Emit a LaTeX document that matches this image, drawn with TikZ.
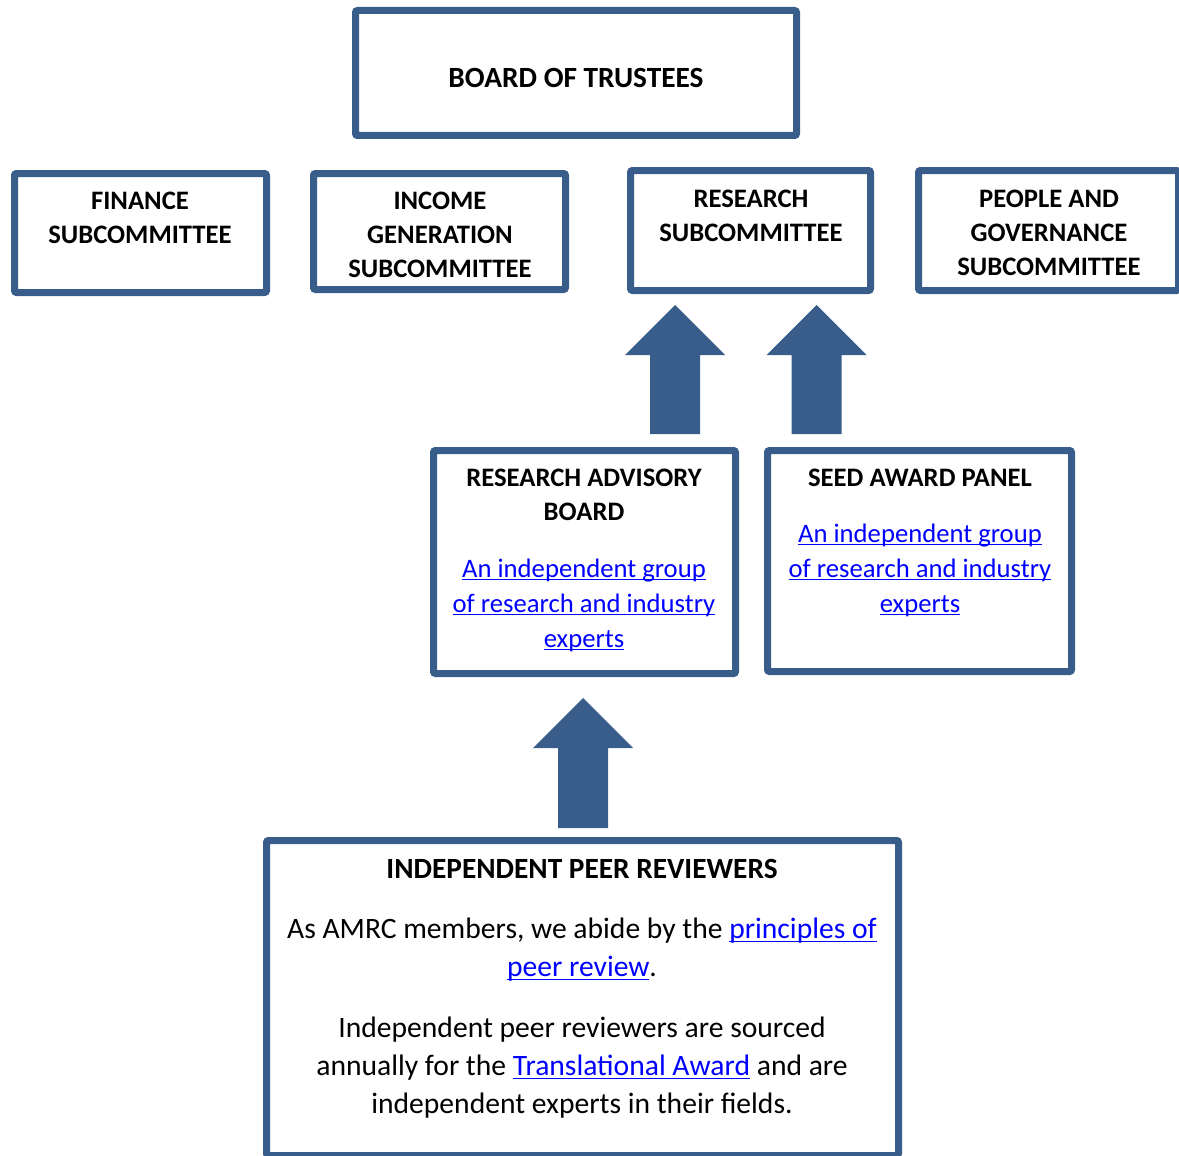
\documentclass[tikz,border=0pt]{standalone}
\usepackage{fontspec}
\setmainfont{Carlito}
\usetikzlibrary{calc, positioning}
\definecolor{boxblue}{HTML}{385D8A}
\definecolor{linkblue}{HTML}{0000FF}
\newcommand{\lnk}[1]{\textcolor{linkblue}{\setbox0\hbox{#1}\rlap{\rule[-2.4pt]{\wd0}{0.8pt}}\box0}}
\newcommand{\blockarrow}[2]{%
  \fill[boxblue] ($(#1)+(-25,0)$) |- ($(#2)+(-50,50)$) -- (#2) -- ($(#2)+(50,50)$) -| ($(#1)+(25,0)$) -- cycle;}

\begin{document}
\begin{tikzpicture}[x=0.75pt, y=-0.75pt,
  box/.style={draw=boxblue, line width=5.25pt, rounded corners=1.5pt, inner sep=0pt},
  head/.style={font=\fontsize{20}{25.5}\selectfont\bfseries, align=center, inner sep=0pt},
  note/.style={font=\fontsize{20}{26.25}\selectfont, align=center, inner sep=0pt},
  body/.style={font=\fontsize{22.2}{28.5}\selectfont, align=center, inner sep=0pt}]

  \useasboundingbox (0,0) rectangle (1179,1156);

  % Blocks
  \node[box, minimum width=441*0.75pt, minimum height=125*0.75pt] (board) at (576,73) {};
  \node[box, minimum width=252*0.75pt, minimum height=119*0.75pt] (finance) at (140.5,233) {};
  \node[box, minimum width=252*0.75pt, minimum height=116*0.75pt] (income) at (439.5,231.5) {};
  \node[box, minimum width=240*0.75pt, minimum height=120*0.75pt] (research) at (750.5,230.5) {};
  \node[box, minimum width=260*0.75pt, minimum height=120*0.75pt] (people) at (1048.5,230.5) {};
  \node[box, minimum width=302*0.75pt, minimum height=223*0.75pt] (rab) at (584.5,562) {};
  \node[box, minimum width=304*0.75pt, minimum height=221*0.75pt] (seed) at (919.5,561) {};
  \node[box, minimum width=632*0.75pt, minimum height=315*0.75pt] (peers) at (582.5,998) {};

  % Texts
  \node[head, font=\fontsize{22}{26}\selectfont\bfseries] (board-t) at (576,78) {BOARD OF TRUSTEES};
  \node[head] (finance-t) at (140,218) {FINANCE\\SUBCOMMITTEE};
  \node[head] (income-t) at (440,235) {INCOME\\GENERATION\\SUBCOMMITTEE};
  \node[head] (research-t) at (751,216) {RESEARCH\\SUBCOMMITTEE};
  \node[head] (people-t) at (1049,233) {PEOPLE AND\\GOVERNANCE\\SUBCOMMITTEE};
  \node[head] (rab-t) at (584,495) {RESEARCH ADVISORY\\BOARD};
  \node[note] (rab-n) at (584,605) {\lnk{An independent group}\\\lnk{of research and industry}\\\lnk{experts}};
  \node[head] (seed-t) at (920,478) {SEED AWARD PANEL};
  \node[note] (seed-n) at (920,570) {\lnk{An independent group}\\\lnk{of research and industry}\\\lnk{experts}};
  \node[head, font=\fontsize{22}{28}\selectfont\bfseries] (peers-t) at (582,869) {INDEPENDENT PEER REVIEWERS};
  \node[body] (peers-a) at (582,950) {As AMRC members, we abide by the \lnk{principles of}\\\lnk{peer review}.};
  \node[body] (peers-b) at (582,1068) {Independent peer reviewers are sourced\\annually for the \lnk{Translational Award} and are\\independent experts in their fields.};

  % Arrows
  \coordinate (rab-up) at (675,434);
  \coordinate (rab-tip) at (675,305);
  \coordinate (seed-up) at (816.5,434);
  \coordinate (seed-tip) at (816.5,305);
  \coordinate (peers-up) at (583,828);
  \coordinate (peers-tip) at (583,698);
  \blockarrow{rab-up}{rab-tip}
  \blockarrow{seed-up}{seed-tip}
  \blockarrow{peers-up}{peers-tip}

\end{tikzpicture}
\end{document}
